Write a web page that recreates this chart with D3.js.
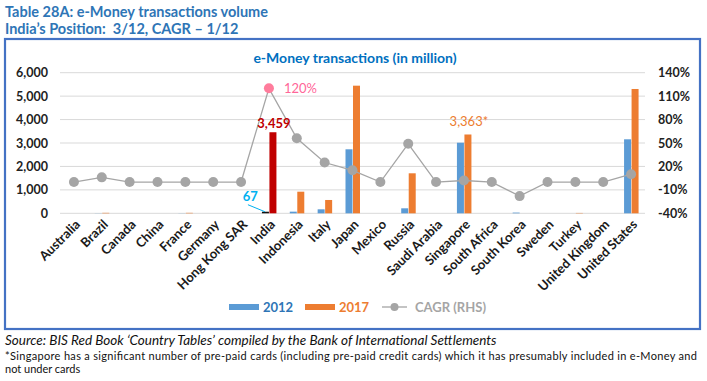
<!DOCTYPE html>
<html>
<head>
<meta charset="utf-8">
<script src="https://cdn.jsdelivr.net/npm/d3@7"></script>
<style>
  body { margin: 0; background: #fff; }
  svg text { font-family: Lato, "Open Sans", sans-serif; }
</style>
</head>
<body>
<div id="chart"></div>
<script>
var countries = ["Australia", "Brazil", "Canada", "China", "France", "Germany", "Hong Kong SAR", "India",
  "Indonesia", "Italy", "Japan", "Mexico", "Russia", "Saudi Arabia", "Singapore", "South Africa",
  "South Korea", "Sweden", "Turkey", "United Kingdom", "United States"];
var vol2012 = [0, 5, 0, 0, 5, 0, 0, 67, 70, 170, 2731, 0, 213, 0, 3013, 0, 30, 0, 0, 0, 3158];
var vol2017 = [0, 20, 0, 0, 20, 0, 0, 3459, 922, 568, 5446, 0, 1707, 0, 3363, 0, 0, 0, 15, 0, 5305];
var cagr = [0, 6, 0, 0, 0, 0, 0, 120, 56, 25, 15, 0, 49, 0, 2, 0, -18, 0, 0, 0, 10];
var leftTicks = [0, 1000, 2000, 3000, 4000, 5000, 6000];
var rightTicks = [-40, -10, 20, 50, 80, 110, 140];

var W = 707, H = 381;
var svg = d3.select("#chart").append("svg")
    .attr("width", W)
    .attr("height", H);

var blue = "#5B9BD5", orange = "#ED7D31", grey = "#A5A5A5";
var head = "#2E75B6";

// headings
svg.append("text").attr("x", 5).attr("y", 17)
    .style("font-size", "14.5px").style("font-weight", "bold").style("fill", head)
    .text("Table 28A: e-Money transactions volume");
svg.append("text").attr("x", 5).attr("y", 34)
    .style("font-size", "14.5px").style("font-weight", "bold").style("fill", head)
    .attr("xml:space", "preserve")
    .text("India\u2019s Position:  3/12, CAGR \u2013 1/12");

// frame
svg.append("rect")
    .attr("x", 5).attr("y", 39).attr("width", 695).attr("height", 290)
    .attr("fill", "none").attr("stroke", "#4472C4").attr("stroke-width", 2.2);

svg.append("text").attr("x", 355).attr("y", 63).attr("text-anchor", "middle")
    .style("font-size", "14px").style("font-weight", "bold").style("fill", "#0070C0")
    .text("e-Money transactions (in million)");

var pLeft = 60, pRight = 645, pTop = 72.7, pBottom = 213.3;

var x = d3.scaleBand().domain(countries).range([pLeft, pRight]);
var y = d3.scaleLinear().domain([0, 6000]).range([pBottom, pTop]);
var y2 = d3.scaleLinear().domain([-40, 140]).range([pBottom, pTop]);

// gridlines
svg.append("g").selectAll("line").data(leftTicks).enter().append("line")
    .attr("x1", pLeft).attr("x2", pRight)
    .attr("y1", function(d) { return y(d); }).attr("y2", function(d) { return y(d); })
    .attr("stroke", "#D9D9D9").attr("stroke-width", 1);

var yAxis = d3.axisLeft(y).tickValues(leftTicks).tickFormat(d3.format(",")).tickSize(0).tickPadding(12);
var gy = svg.append("g").attr("transform", "translate(" + pLeft + ",0)").call(yAxis);
gy.select(".domain").remove();
gy.selectAll("text").style("font-size", "12.5px").style("font-weight", "bold").style("fill", "#222");

var y2Axis = d3.axisRight(y2).tickValues(rightTicks).tickFormat(function(d) { return d + "%"; }).tickSize(0).tickPadding(13);
var gy2 = svg.append("g").attr("transform", "translate(" + pRight + ",0)").call(y2Axis);
gy2.select(".domain").remove();
gy2.selectAll("text").style("font-size", "12.5px").style("font-weight", "bold").style("fill", "#222");

// x labels
var xAxis = d3.axisBottom(x).tickSize(0).tickPadding(0);
var gx = svg.append("g").attr("transform", "translate(0," + pBottom + ")").call(xAxis);
gx.select(".domain").remove();
gx.selectAll("text")
    .attr("text-anchor", "end")
    .attr("dy", 0).attr("y", 0)
    .attr("transform", "translate(7,12) rotate(-45)")
    .style("font-size", "13px").style("font-weight", "bold").style("fill", "#1a1a1a");

// bars
var bw = 7;
svg.append("g").selectAll("rect").data(vol2012).enter().append("rect")
    .attr("x", function(d, i) { return x(countries[i]) + x.bandwidth() / 2 - bw; })
    .attr("y", function(d) { return y(d); })
    .attr("width", bw)
    .attr("height", function(d) { return pBottom - y(d); })
    .attr("fill", function(d, i) { return countries[i] === "India" ? "#111" : blue; });

svg.append("g").selectAll("rect").data(vol2017).enter().append("rect")
    .attr("x", function(d, i) { return x(countries[i]) + x.bandwidth() / 2 + 0.5; })
    .attr("y", function(d) { return y(d); })
    .attr("width", bw)
    .attr("height", function(d) { return pBottom - y(d); })
    .attr("fill", function(d, i) { return countries[i] === "India" ? "#C00000" : orange; });

// CAGR line
var line = d3.line()
    .x(function(d, i) { return x(countries[i]) + x.bandwidth() / 2; })
    .y(function(d) { return y2(d); });
svg.append("path").datum(cagr)
    .attr("d", line).attr("fill", "none").attr("stroke", grey).attr("stroke-width", 1.3);
svg.append("g").selectAll("circle").data(cagr).enter().append("circle")
    .attr("cx", function(d, i) { return x(countries[i]) + x.bandwidth() / 2; })
    .attr("cy", function(d) { return y2(d); })
    .attr("r", 5)
    .attr("fill", function(d, i) { return countries[i] === "India" ? "#FF7C9C" : grey; });

// annotations
var iIdx = countries.indexOf("India"), sIdx = countries.indexOf("Singapore");
var cx = function(i) { return x(countries[i]) + x.bandwidth() / 2; };
svg.append("text").attr("x", cx(iIdx) + 5).attr("y", y(vol2017[iIdx]) - 4)
    .attr("text-anchor", "middle")
    .style("font-size", "13px").style("font-weight", "bold").style("fill", "#C00000")
    .text(d3.format(",")(vol2017[iIdx]));
svg.append("text").attr("x", cx(iIdx) + 15).attr("y", y2(cagr[iIdx]) + 5)
    .style("font-size", "13px").style("fill", "#FF6699")
    .text(cagr[iIdx] + "%");
svg.append("text").attr("x", cx(iIdx) - 11).attr("y", y(vol2012[iIdx]) - 11)
    .attr("text-anchor", "end")
    .style("font-size", "13px").style("font-weight", "bold").style("fill", "#00B0F0")
    .text(vol2012[iIdx]);
svg.append("line")
    .attr("x1", cx(iIdx) - 21).attr("y1", y(vol2012[iIdx]) - 7)
    .attr("x2", cx(iIdx) - 4).attr("y2", y(vol2012[iIdx]))
    .attr("stroke", "#00B0F0").attr("stroke-width", 1);
svg.append("text").attr("x", cx(sIdx) + 5).attr("y", y(vol2017[sIdx]) - 8)
    .attr("text-anchor", "middle")
    .style("font-size", "13px").style("fill", orange)
    .text(d3.format(",")(vol2017[sIdx]) + "*");

// legend
var lg = svg.append("g").attr("transform", "translate(0,307)");
lg.append("rect").attr("x", 229).attr("y", -3).attr("width", 30).attr("height", 6).attr("fill", blue);
lg.append("text").attr("x", 263).attr("y", 5).style("font-size", "13px").style("font-weight", "bold").style("fill", "#2E75B6").text("2012");
lg.append("rect").attr("x", 305).attr("y", -3).attr("width", 30).attr("height", 6).attr("fill", orange);
lg.append("text").attr("x", 339).attr("y", 5).style("font-size", "13px").style("font-weight", "bold").style("fill", orange).text("2017");
lg.append("line").attr("x1", 382).attr("x2", 407).attr("y1", 0).attr("y2", 0).attr("stroke", grey).attr("stroke-width", 1.3);
lg.append("circle").attr("cx", 394.5).attr("cy", 0).attr("r", 4).attr("fill", grey);
lg.append("text").attr("x", 415).attr("y", 5).style("font-size", "13px").style("font-weight", "bold").style("fill", grey).text("CAGR (RHS)");

// notes
svg.append("text").attr("x", 5).attr("y", 345)
    .style("font-size", "13.5px").style("font-style", "italic").style("fill", "#111")
    .text("Source: BIS Red Book \u2018Country Tables\u2019 compiled by the Bank of International Settlements");
svg.append("text").attr("x", 5).attr("y", 360)
    .attr("textLength", 692).attr("lengthAdjust", "spacing")
    .style("font-size", "11px").style("fill", "#111")
    .text("*Singapore has a significant number of pre-paid cards (including pre-paid credit cards) which it has presumably included in e-Money and");
svg.append("text").attr("x", 5).attr("y", 373)
    .style("font-size", "11px").style("fill", "#111")
    .text("not under cards");
</script>
</body>
</html>
